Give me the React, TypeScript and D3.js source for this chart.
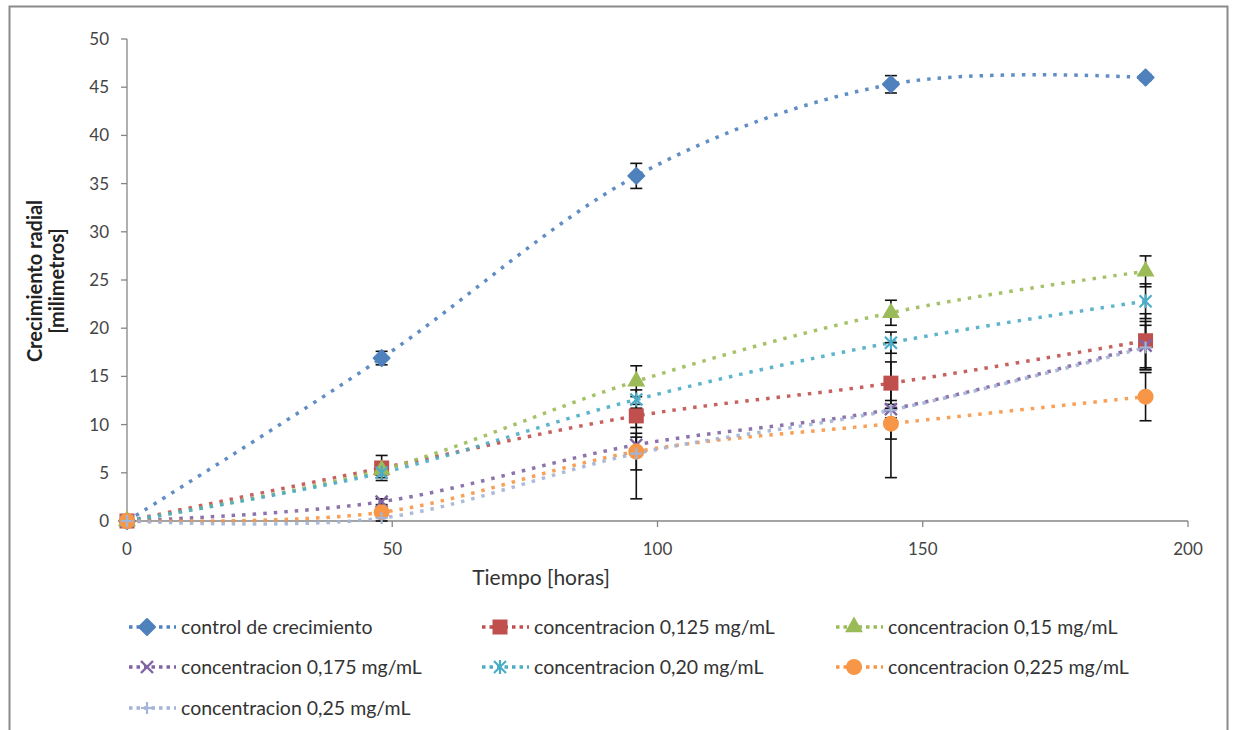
import React from "react";
import * as d3 from "d3";

const hours = [0, 48, 96, 144, 192];
const seriesNames = [
  "control de crecimiento",
  "concentracion 0,125 mg/mL",
  "concentracion 0,15 mg/mL",
  "concentracion 0,175 mg/mL",
  "concentracion 0,20 mg/mL",
  "concentracion 0,225 mg/mL",
  "concentracion 0,25 mg/mL",
];
const control = [0, 16.9, 35.8, 45.3, 46.0];
const c125 = [0, 5.5, 10.9, 14.3, 18.7];
const c15 = [0, 5.3, 14.5, 21.6, 25.9];
const c175 = [0, 2.0, 7.9, 11.6, 18.2];
const c20 = [0, 5.0, 12.6, 18.5, 22.8];
const c225 = [0, 0.9, 7.2, 10.1, 12.9];
const c25 = [0, 0.3, 7.0, 11.5, 18.0];

const errControl = [0, 0.7, 1.3, 0.9, 0.3];
const err125 = [0, 1.3, 1.2, 2.2, 2.8];
const err15 = [0, 0.5, 1.6, 1.3, 1.6];
const err175 = [0, 0.3, 0.8, 0.9, 2.5];
const err20 = [0, 0.5, 1.0, 1.1, 1.8];
const err225 = [0, 0.3, 1.9, 1.6, 2.5];
const err25 = [0, 0.3, 4.7, 7.0, 2.3];

const yTicks = [0, 5, 10, 15, 20, 25, 30, 35, 40, 45, 50];
const xTicks = [0, 50, 100, 150, 200];

const colors = ["#4F81BD", "#C0504D", "#9BBB59", "#8064A2", "#4BACC6", "#F79646", "#A3B4D6"];
const markerTypes = ["diamond", "square", "triangle", "x", "star", "circle", "plus"];

const allValues = [control, c125, c15, c175, c20, c225, c25];
const allErrors = [errControl, err125, err15, err175, err20, err225, err25];

const FONT = "Lato, 'Open Sans', sans-serif";

function Marker({ type, x, y, color }: { type: string; x: number; y: number; color: string }) {
  if (type === "diamond") {
    const s = 8;
    return (
      <path
        d={`M${x},${y - s}L${x + s},${y}L${x},${y + s}L${x - s},${y}Z`}
        fill={color}
        stroke={color}
        strokeWidth={2}
        strokeLinejoin="round"
      />
    );
  }
  if (type === "square") {
    return <rect x={x - 7.5} y={y - 7.5} width={15} height={15} fill={color} />;
  }
  if (type === "triangle") {
    return <path d={d3.symbol(d3.symbolTriangle, 140)() as string} transform={`translate(${x},${y})`} fill={color} />;
  }
  if (type === "circle") {
    return <circle cx={x} cy={y} r={8} fill={color} />;
  }
  if (type === "x") {
    const s = 6;
    return (
      <g stroke={color} strokeWidth={2.4}>
        <line x1={x - s} y1={y - s} x2={x + s} y2={y + s} />
        <line x1={x - s} y1={y + s} x2={x + s} y2={y - s} />
      </g>
    );
  }
  if (type === "star") {
    const s = 6;
    return (
      <g stroke={color} strokeWidth={2.2}>
        <line x1={x - s} y1={y - s} x2={x + s} y2={y + s} />
        <line x1={x - s} y1={y + s} x2={x + s} y2={y - s} />
        <line x1={x} y1={y - s - 1} x2={x} y2={y + s + 1} />
      </g>
    );
  }
  const s = 6;
  return (
    <g stroke={color} strokeWidth={2.2}>
      <line x1={x - s} y1={y} x2={x + s} y2={y} />
      <line x1={x} y1={y - s} x2={x} y2={y + s} />
    </g>
  );
}

export default function App() {
  const W = 1236;
  const H = 730;
  const x = d3.scaleLinear().domain([0, 200]).range([127, 1188]);
  const y = d3.scaleLinear().domain([0, 50]).range([521, 39]);
  const line = d3
    .line<number>()
    .x((_, i) => x(hours[i]))
    .y((d) => y(d))
    .curve(d3.curveCardinal.tension(0));

  const legendCols = [181, 534, 888];
  const legendRows = [627, 667, 708];

  return (
    <svg width={W} height={H} style={{ position: "absolute", left: 0, top: 0, background: "#fff" }}>
      <rect x={9.5} y={6.5} width={1218} height={760} fill="#fff" stroke="#8a8a8a" strokeWidth={2} />
      {/* axes */}
      <line x1={x(0)} y1={y(0)} x2={x(200)} y2={y(0)} stroke="#868686" strokeWidth={1.3} />
      <line x1={x(0)} y1={y(0)} x2={x(0)} y2={y(50)} stroke="#868686" strokeWidth={1.3} />
      {yTicks.map((t) => (
        <g key={"y" + t}>
          <line x1={x(0) - 6} x2={x(0)} y1={y(t)} y2={y(t)} stroke="#868686" strokeWidth={1.3} />
          <text x={109} y={y(t)} dy="0.35em" textAnchor="end" fontFamily={FONT} fontSize={17} fill="#444">
            {t}
          </text>
        </g>
      ))}
      {xTicks.map((t) => (
        <g key={"x" + t}>
          <line x1={x(t)} x2={x(t)} y1={y(0)} y2={y(0) + 6} stroke="#868686" strokeWidth={1.3} />
          <text x={x(t)} y={555} textAnchor="middle" fontFamily={FONT} fontSize={17} fill="#444">
            {t}
          </text>
        </g>
      ))}
      <text x={541} y={585} textAnchor="middle" fontFamily={FONT} fontSize={21} fill="#333">
        Tiempo [horas]
      </text>
      <g transform="translate(35,281) rotate(-90)">
        <text x={0} y={0} dy="0.35em" textAnchor="middle" fontFamily={FONT} fontSize={20} fontWeight="bold" fill="#222">
          Crecimiento radial
        </text>
        <text x={0} y={22} dy="0.35em" textAnchor="middle" fontFamily={FONT} fontSize={20} fontWeight="bold" fill="#222">
          [milimetros]
        </text>
      </g>
      {/* lines */}
      {allValues.map((vals, si) => (
        <path
          key={"l" + si}
          d={line(vals) as string}
          fill="none"
          stroke={colors[si]}
          strokeWidth={3.5}
          strokeDasharray="3.5 7"
          opacity={0.9}
        />
      ))}
      {/* error bars */}
      {allValues.map((vals, si) => (
        <g key={"e" + si} stroke="#111" strokeWidth={1.6}>
          {vals.map((v, i) =>
            allErrors[si][i] > 0 ? (
              <g key={i}>
                <line x1={x(hours[i])} x2={x(hours[i])} y1={y(v - allErrors[si][i])} y2={y(v + allErrors[si][i])} />
                <line x1={x(hours[i]) - 6} x2={x(hours[i]) + 6} y1={y(v - allErrors[si][i])} y2={y(v - allErrors[si][i])} />
                <line x1={x(hours[i]) - 6} x2={x(hours[i]) + 6} y1={y(v + allErrors[si][i])} y2={y(v + allErrors[si][i])} />
              </g>
            ) : null
          )}
        </g>
      ))}
      {/* markers */}
      {allValues.map((vals, si) => (
        <g key={"m" + si}>
          {vals.map((v, i) => (
            <Marker key={i} type={markerTypes[si]} x={x(hours[i])} y={y(v)} color={colors[si]} />
          ))}
        </g>
      ))}
      {/* legend */}
      {seriesNames.map((name, si) => {
        const col = si % 3;
        const row = Math.floor(si / 3);
        const tx = legendCols[col];
        const ty = legendRows[row];
        return (
          <g key={"lg" + si}>
            <line x1={tx - 52} x2={tx - 5} y1={ty} y2={ty} stroke={colors[si]} strokeWidth={3.5} strokeDasharray="3.5 4" />
            <Marker type={markerTypes[si]} x={tx - 34} y={ty} color={colors[si]} />
            <text x={tx} y={ty} dy="0.35em" fontFamily={FONT} fontSize={19.5} fill="#333">
              {name}
            </text>
          </g>
        );
      })}
    </svg>
  );
}
